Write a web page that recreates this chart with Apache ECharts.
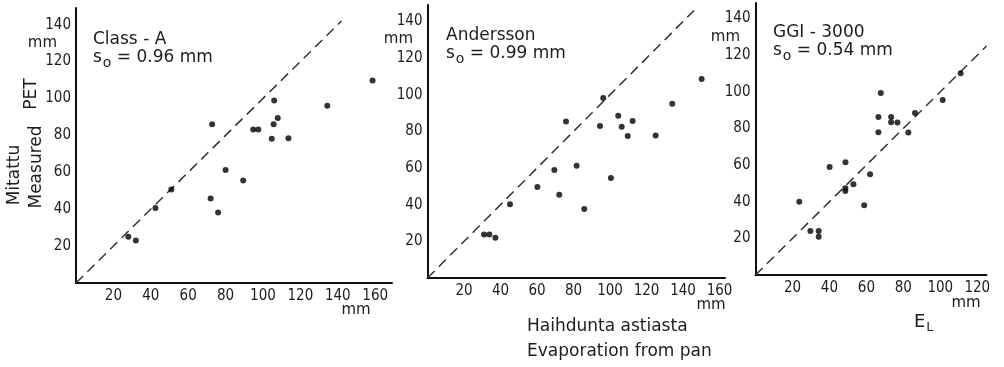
<!DOCTYPE html>
<html>
<head>
<meta charset="utf-8">
<script src="https://cdn.jsdelivr.net/npm/echarts@6/dist/echarts.min.js"></script>
<style>
  html, body { margin: 0; padding: 0; background: #fff; }
  #chart { width: 1004px; height: 367px; }
</style>
</head>
<body>
<div id="chart"></div>
<script>
// Monthly PET: measured vs. evaporation estimates (mm)
const classA_x = [28, 32, 42.5, 51, 72, 72.8, 76, 80, 89.4, 94.8, 97.5, 104.7, 106, 105.7, 107.9, 113.6, 134.4, 158.6];
const classA_y = [25, 23, 40.7, 50.6, 45.8, 86, 38.2, 61.2, 55.5, 83.2, 83.2, 78.2, 98.9, 86, 89.4, 78.4, 96, 109.7];

const andersson_x = [31, 33.9, 37.2, 45.2, 60.2, 69.5, 72.2, 75.9, 81.7, 85.9, 94.5, 96.3, 100.5, 104.5, 106.4, 109.7, 112.4, 125, 134.1, 150.2];
const andersson_y = [23.8, 23.8, 22, 40.2, 49.7, 59, 45.4, 85.4, 61.2, 37.6, 82.9, 98.2, 54.6, 88.6, 82.5, 77.5, 85.7, 77.8, 95.1, 108.6];

const ggi_x = [23.7, 29.7, 34.2, 34.2, 40.1, 48.7, 48.6, 48.6, 53, 58.8, 62, 66.5, 66.5, 67.8, 73.4, 73.4, 76.8, 82.7, 86.3, 101.3, 111];
const ggi_y = [40, 24, 24, 20.9, 58.9, 61.6, 47.4, 45.9, 49.6, 38.1, 55, 86.2, 78, 99.3, 86.2, 83.4, 83.2, 77.8, 88.5, 95.6, 110.2];

// 1:1 reference line end for each panel
const diagonalEnd = [142, 146, 125];
// axis extents
const xMax = [169, 163, 125];
const yMax = [149, 149, 148.5];
const tickStep = 20;

const panelTitles = ['Class - A', 'Andersson', 'GGI - 3000'];
const panelSo = ['0.96', '0.99', '0.54'];

const INK = '#1c1c1c';
const FONT = '"DejaVu Sans", sans-serif';
const TICK_FONT = '"DejaVu Sans Condensed", "DejaVu Sans", sans-serif';

const grids = [
  { left: 76, top: 8, width: 316, height: 275 },
  { left: 427.5, top: 5, width: 297.5, height: 273 },
  { left: 755.5, top: 3, width: 231, height: 272 }
];

function zip(xs, ys) { return xs.map((x, i) => [x, ys[i]]); }
const panels = [zip(classA_x, classA_y), zip(andersson_x, andersson_y), zip(ggi_x, ggi_y)];

function tickLabel(v) {
  return (v > 0 && Math.abs(v % tickStep) < 1e-9) ? String(v) : '';
}

const axisCommon = {
  type: 'value',
  min: 0,
  interval: tickStep,
  axisLine: { show: true, onZero: false, lineStyle: { color: '#111', width: 2 } },
  axisTick: { show: false },
  splitLine: { show: false },
  axisLabel: { color: INK, fontSize: 15, fontFamily: TICK_FONT, formatter: tickLabel, showMinLabel: false }
};

const xAxes = grids.map((g, i) => Object.assign({}, axisCommon, {
  gridIndex: i, max: xMax[i],
  axisLabel: Object.assign({}, axisCommon.axisLabel, { margin: 6 })
}));
const yAxes = grids.map((g, i) => Object.assign({}, axisCommon, {
  gridIndex: i, max: yMax[i],
  axisLabel: Object.assign({}, axisCommon.axisLabel, { margin: 5 })
}));

const series = [];
panels.forEach((pts, i) => {
  series.push({
    type: 'line',
    xAxisIndex: i, yAxisIndex: i,
    data: [[0, 0], [diagonalEnd[i], diagonalEnd[i]]],
    symbol: 'none',
    silent: true,
    lineStyle: { color: '#333', width: 1.5, type: [10, 6] },
    z: 1
  });
  series.push({
    type: 'scatter',
    xAxisIndex: i, yAxisIndex: i,
    data: pts,
    symbol: 'circle',
    symbolSize: 6,
    itemStyle: { color: '#000' },
    z: 3
  });
});

const richSo = {
  s: { fontSize: 17, fontFamily: FONT, color: INK },
  o: { fontSize: 14, fontFamily: FONT, color: INK, padding: [10, 0, 0, 1] },
  t: { fontSize: 17, fontFamily: FONT, color: INK }
};

function txt(x, y, text, size, extra) {
  return Object.assign({
    type: 'text', x: x, y: y,
    style: Object.assign({ text: text, fill: INK, font: size + 'px ' + FONT, textVerticalAlign: 'middle' }, (extra && extra.style) || {})
  }, extra ? { rotation: extra.rotation || 0, originX: 0, originY: 0 } : {});
}

const annoPos = [
  { x: 93, y1: 40, y2: 58 },
  { x: 446, y1: 36, y2: 54 },
  { x: 773, y1: 33, y2: 51 }
];

const graphics = [];
annoPos.forEach((p, i) => {
  graphics.push(txt(p.x, p.y1, panelTitles[i], 17));
  graphics.push({
    type: 'text', x: p.x, y: p.y2,
    style: {
      text: '{s|s}{o|o}{t| = ' + panelSo[i] + ' mm}',
      rich: richSo,
      fill: INK,
      textVerticalAlign: 'middle'
    }
  });
});

// unit labels
graphics.push(txt(57, 43, 'mm', 15, { style: { textAlign: 'right' } }));
graphics.push(txt(413, 39, 'mm', 15, { style: { textAlign: 'right' } }));
graphics.push(txt(740, 37, 'mm', 15, { style: { textAlign: 'right' } }));
graphics.push(txt(356, 310, 'mm', 15, { style: { textAlign: 'center' } }));
graphics.push(txt(711, 305, 'mm', 15, { style: { textAlign: 'center' } }));
graphics.push(txt(966, 303, 'mm', 15, { style: { textAlign: 'center' } }));

// y titles (vertical)
graphics.push(txt(15, 175, 'Mitattu', 17, { rotation: Math.PI / 2, style: { textAlign: 'center' } }));
graphics.push(txt(37, 167, 'Measured', 17, { rotation: Math.PI / 2, style: { textAlign: 'center' } }));
graphics.push(txt(32, 94, 'PET', 17, { rotation: Math.PI / 2, style: { textAlign: 'center' } }));

// x titles
graphics.push(txt(527, 327, 'Haihdunta astiasta', 17));
graphics.push(txt(527, 352, 'Evaporation from pan', 17));
graphics.push({
  type: 'text', x: 914, y: 322,
  style: {
    text: '{e|E}{l|L}',
    rich: {
      e: { fontSize: 18, fontFamily: FONT, color: INK },
      l: { fontSize: 13, fontFamily: FONT, color: INK, padding: [11, 0, 0, 1] }
    },
    fill: INK,
    textVerticalAlign: 'middle'
  }
});

const chart = echarts.init(document.getElementById('chart'), null, { renderer: 'canvas' });
chart.setOption({
  animation: false,
  backgroundColor: '#fff',
  grid: grids,
  xAxis: xAxes,
  yAxis: yAxes,
  series: series,
  graphic: graphics
});
</script>
</body>
</html>
